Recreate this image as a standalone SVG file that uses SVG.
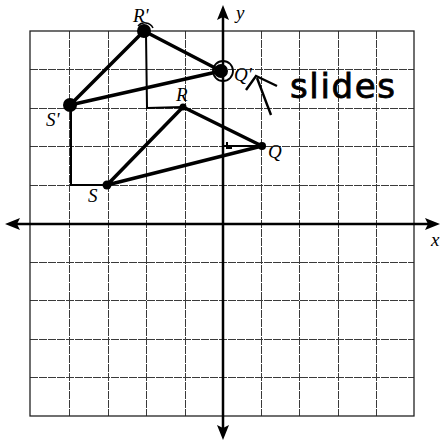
<svg xmlns="http://www.w3.org/2000/svg" width="440" height="442" viewBox="0 0 440 442">
<defs>
<style>
.grid{stroke:#3a3a3a;stroke-width:1;stroke-dasharray:8 1;fill:none;shape-rendering:crispEdges}
.border{stroke:#222;stroke-width:1.3;fill:none}
.axis{stroke:#000;stroke-width:2.5;fill:none}
.tri{stroke:#000;stroke-width:3.5;fill:none;stroke-linejoin:round;stroke-linecap:round}
.path{stroke:#000;stroke-width:2;fill:none}
.lbl{font-family:"Liberation Serif",serif;font-style:italic;font-size:19px;fill:#000}
.hand{font-family:"DejaVu Sans",sans-serif;font-size:34px;fill:#000}
</style>
</defs>
<rect width="440" height="442" fill="#fff"/>
<g id="grid">
<path class="grid" d="M69,31V416M108,31V416M146,31V416M185,31V416M261,31V416M299,31V416M338,31V416M376,31V416M30,69.5H414M30,108H414M30,146H414M30,185H414M30,262H414M30,300H414M30,339H414M30,377H414"/>
<rect class="border" x="30" y="31" width="384" height="385"/>
</g>
<g id="axes">
<line class="axis" x1="14" y1="224" x2="430" y2="224"/>
<path d="M5,224 L20,218 L17,224 L20,230 Z" fill="#000"/>
<path d="M440,224 L425,218 L428,224 L425,230 Z" fill="#000"/>
<line class="axis" x1="223" y1="14" x2="223" y2="430"/>
<path d="M223,5 L217,20 L223,17 L229,20 Z" fill="#000"/>
<path d="M223,440 L217,425 L223,428 L229,425 Z" fill="#000"/>
<text class="lbl" x="431" y="246" font-size="16">x</text>
<text class="lbl" x="236" y="19" font-size="16">y</text>
</g>
<g id="connectors">
<path class="path" d="M146,33 L147,108 L183,107"/>
<path class="path" d="M71,106 L71,185 L106,185"/>
<path class="path" d="M223,72 L223,146 L261,146"/>
<path class="path" d="M227,142 L227,148 L232,148" stroke-width="1.5"/>
<polygon class="tri" points="144,31 221,71 70,105"/>
<polygon class="tri" points="183,107 262,146 107,185"/>
</g>
<g id="node-Rp">
<circle cx="144" cy="31" r="7" fill="#000"/>
<path d="M138,26 A9,9 0 0 1 153,28" stroke="#000" stroke-width="1.5" fill="none"/>
<text class="lbl" x="133" y="22">R'</text>
</g>
<g id="node-Qp">
<circle cx="221" cy="71" r="7" fill="#000"/>
<circle cx="223" cy="71" r="10" stroke="#000" stroke-width="1.8" fill="none"/>
<text class="lbl" x="234" y="81">Q'</text>
</g>
<g id="node-Sp">
<circle cx="70" cy="105" r="7" fill="#000"/>
<text class="lbl" x="46" y="126">S'</text>
</g>
<g id="node-R">
<circle cx="183" cy="107" r="3.5" fill="#000"/>
<text class="lbl" x="176" y="101">R</text>
</g>
<g id="node-Q">
<circle cx="262" cy="146" r="4" fill="#000"/>
<text class="lbl" x="268" y="158">Q</text>
</g>
<g id="node-S">
<circle cx="107" cy="185" r="4.5" fill="#000"/>
<text class="lbl" x="88" y="202">S</text>
</g>
<g id="note">
<line x1="271" y1="115" x2="257" y2="78" stroke="#000" stroke-width="2.4"/>
<path d="M246,90 L256,76 L277,86" stroke="#000" stroke-width="2.4" fill="none"/>
<text class="hand" x="290" y="98" textLength="105" lengthAdjust="spacing" stroke="#000" stroke-width="0.8">slides</text>
</g>
</svg>
